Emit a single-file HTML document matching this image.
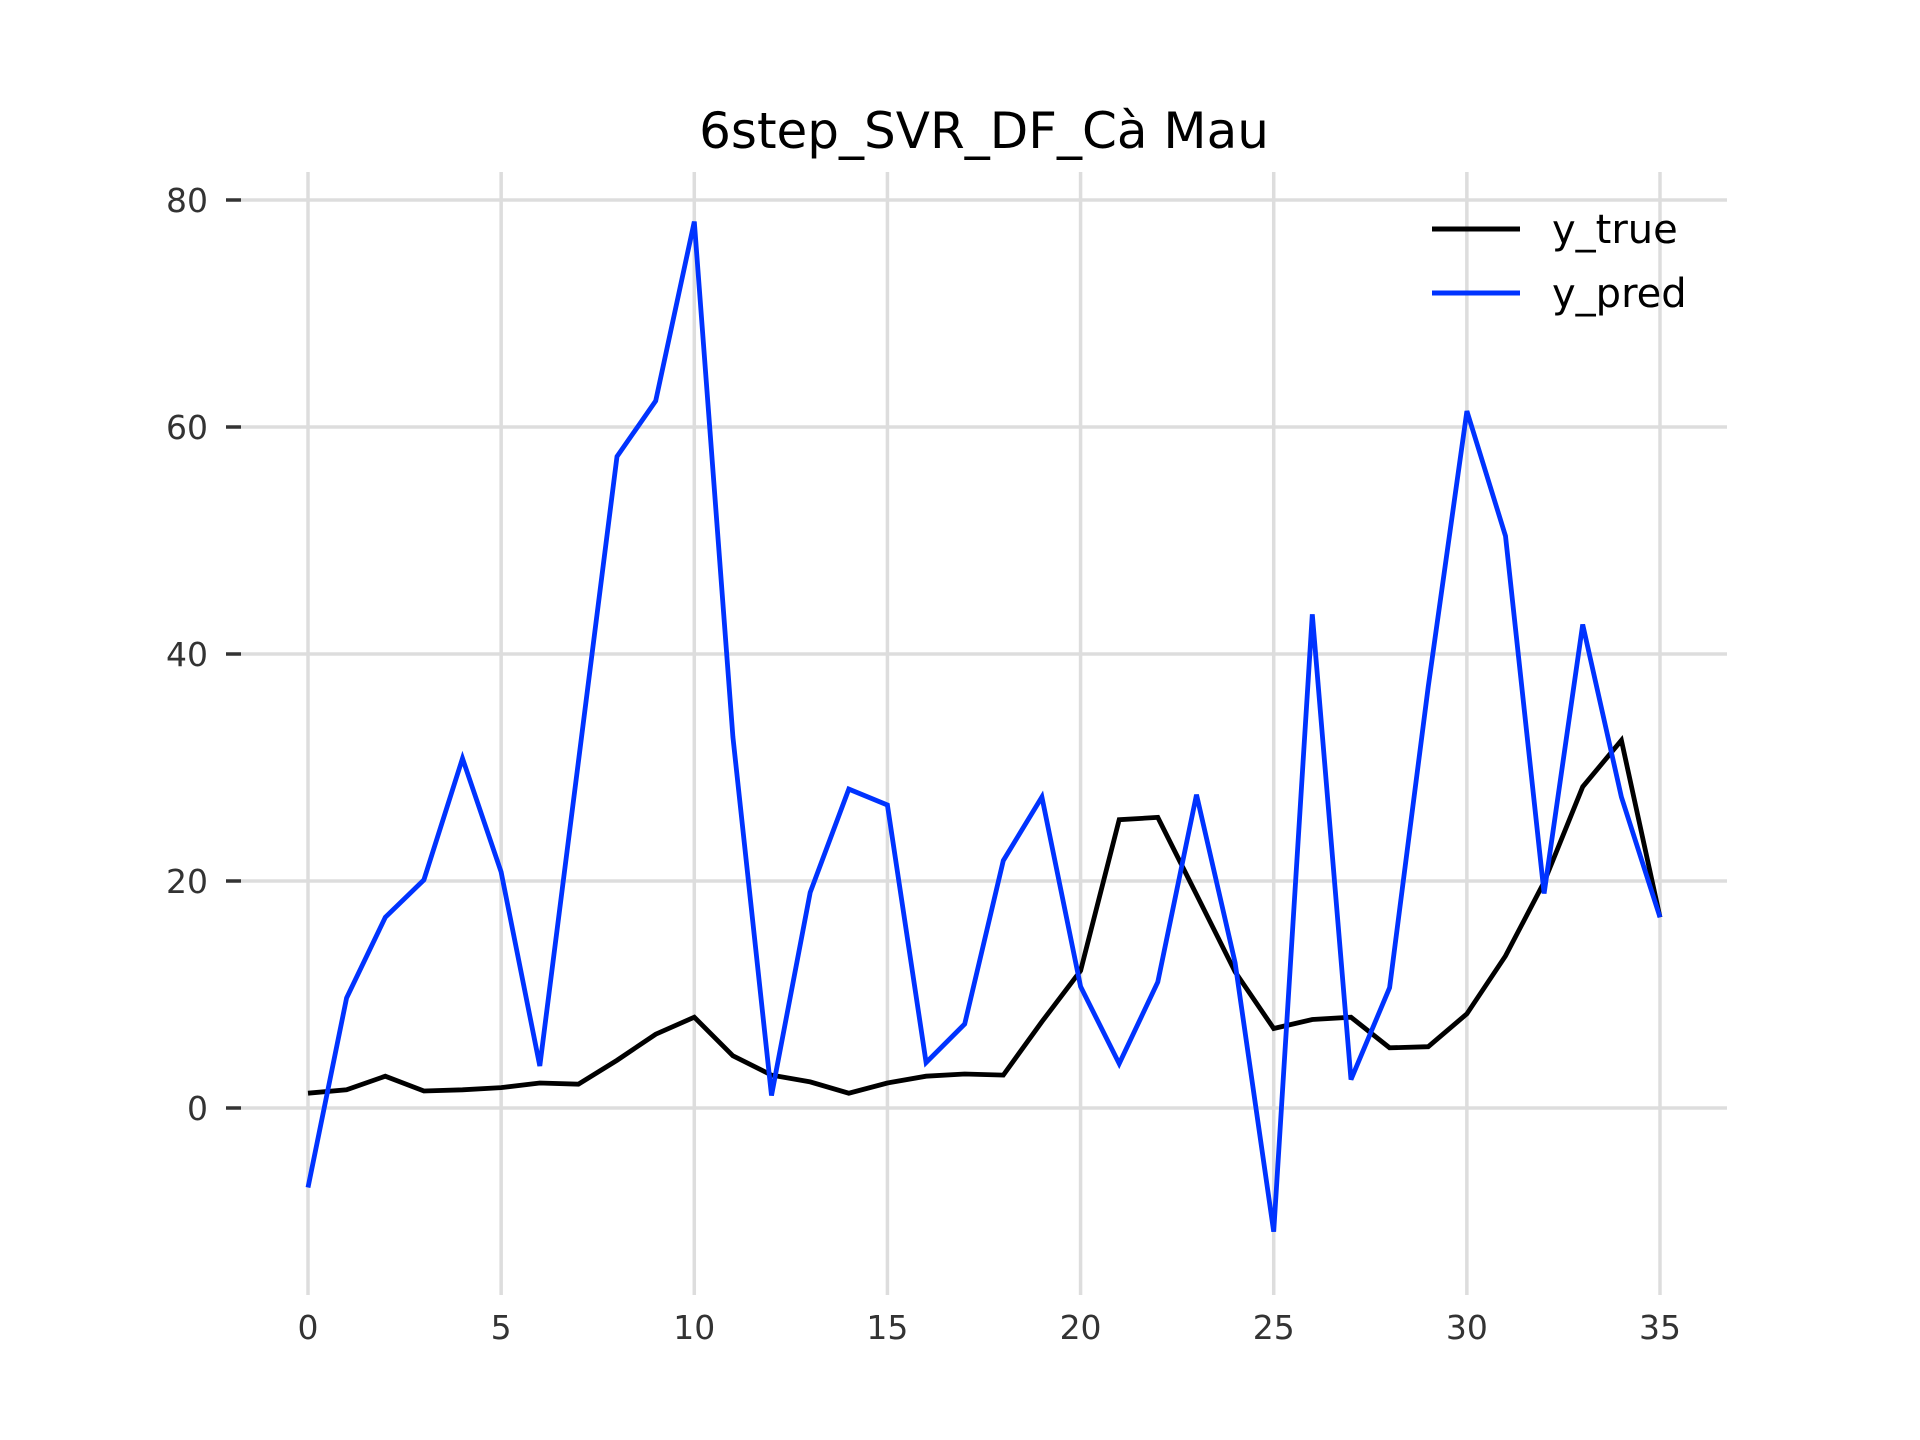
<!DOCTYPE html>
<html><head><meta charset="utf-8"><style>
html,body{margin:0;padding:0;background:#fff;}
svg{display:block;}
text{font-family:"DejaVu Sans","Liberation Sans",sans-serif;}
</style></head>
<body>
<svg id="chart" width="1920" height="1440" viewBox="0 0 1920 1440" xmlns="http://www.w3.org/2000/svg">
<text x="984" y="148" font-size="50" text-anchor="middle" fill="#000">6step_SVR_DF_Cà Mau</text>
<g id="grid"></g>
<g id="ticks"></g>
<g id="series"></g>
<g>
<line x1="1432" y1="229" x2="1520" y2="229" stroke="#000" stroke-width="5"/>
<text x="1552" y="243" font-size="40" fill="#000">y_true</text>
<line x1="1432" y1="293" x2="1520" y2="293" stroke="#0033ff" stroke-width="5"/>
<text x="1552" y="307" font-size="40" fill="#000">y_pred</text>
</g>
</svg>
<script>
const xTicks = [0,5,10,15,20,25,30,35];
const yTicks = [0,20,40,60,80];
const yTrue = [1.3,1.6,2.8,1.5,1.6,1.8,2.2,2.1,4.2,6.5,8.0,4.6,2.9,2.3,1.3,2.2,2.8,3.0,2.9,7.6,12.1,25.4,25.6,18.8,12.0,7.0,7.8,8.0,5.3,5.4,8.3,13.4,19.9,28.3,32.4,16.8];
const yPred = [-7.0,9.7,16.8,20.1,30.8,20.8,3.7,30.5,57.4,62.3,78.1,32.7,1.1,19.0,28.1,26.7,4.0,7.4,21.8,27.4,10.7,3.9,11.1,27.6,12.8,-10.9,43.5,2.5,10.6,37.1,61.4,50.4,18.9,42.6,27.4,16.8];

const NS = 'http://www.w3.org/2000/svg';
function xs(v){ return 308 + v * (1660 - 308) / 35; }
function ys(v){ return 1108 - v * (1108 - 200) / 80; }
function mk(tag, attrs, parent){
  const e = document.createElementNS(NS, tag);
  for (const k in attrs) e.setAttribute(k, attrs[k]);
  parent.appendChild(e);
  return e;
}
const grid = document.getElementById('grid');
const ticks = document.getElementById('ticks');
xTicks.forEach(t => {
  const g = mk('line', {x1: xs(t), x2: xs(t), y1: 172, y2: 1281, stroke: '#dddddd', 'stroke-width': 3.5}, grid);
  
  
  const tk = mk('line', {x1: xs(t), x2: xs(t), y1: 1281, y2: 1295, stroke: '#dddddd', 'stroke-width': 3.5}, ticks);
  
  
  const lb = mk('text', {x: xs(t), y: 1339, 'font-size': 33, 'text-anchor': 'middle', fill: '#333'}, ticks);
  lb.textContent = t;
  
  
});
yTicks.forEach(t => {
  const g = mk('line', {x1: 241, x2: 1727, y1: ys(t), y2: ys(t), stroke: '#dddddd', 'stroke-width': 3.5}, grid);
  
  
  const tk = mk('line', {x1: 226, x2: 241, y1: ys(t), y2: ys(t), stroke: '#333', 'stroke-width': 3.5}, ticks);
  
  
  const lb = mk('text', {x: 208, y: ys(t) + 12, 'font-size': 33, 'text-anchor': 'end', fill: '#333'}, ticks);
  lb.textContent = t;
  
  
});
const series = document.getElementById('series');
function line(data, color, name){
  const pts = data.map((v, i) => xs(i).toFixed(1) + ',' + ys(v).toFixed(1)).join(' ');
  const p = mk('polyline', {points: pts, fill: 'none', stroke: color, 'stroke-width': 4.8, 'stroke-linejoin': 'miter'}, series);
  
  
}
line(yTrue, '#000000', 'y-true-line');
line(yPred, '#0033ff', 'y-pred-line');
</script>
</body></html>
